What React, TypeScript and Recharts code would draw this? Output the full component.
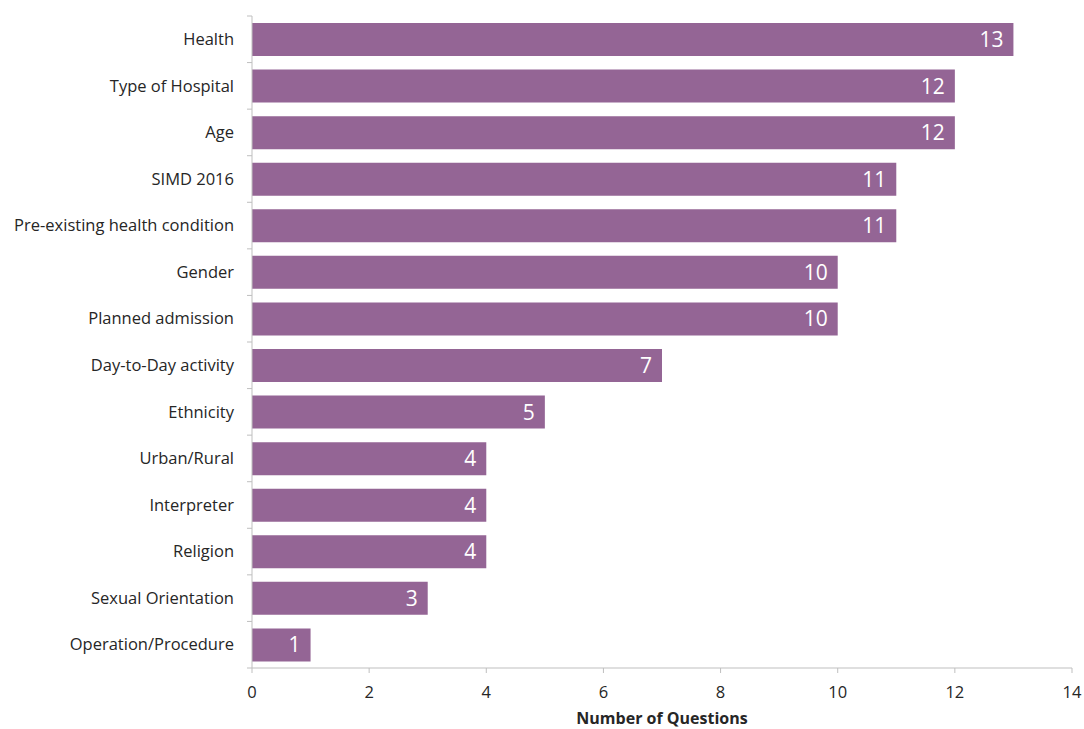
import React from 'react';
import { BarChart, Bar, XAxis, YAxis, LabelList } from 'recharts';

const categories = [
  'Health', 'Type of Hospital', 'Age', 'SIMD 2016', 'Pre-existing health condition',
  'Gender', 'Planned admission', 'Day-to-Day activity', 'Ethnicity', 'Urban/Rural',
  'Interpreter', 'Religion', 'Sexual Orientation', 'Operation/Procedure',
];
const questions = [13, 12, 12, 11, 11, 10, 10, 7, 5, 4, 4, 4, 3, 1];
const xTicks = [0, 2, 4, 6, 8, 10, 12, 14];

const data = categories.map((c, i) => ({ name: c, value: questions[i] }));

const FONT = '"Open Sans", Lato, sans-serif';
const W = 1084;
const H = 729;
const M = { top: 16, right: 12, left: 0, bottom: 0 };
const X_AXIS_H = 61;
const TICK_MARGIN = 13;
const TICK_SIZE = 5;
const band = (H - M.top - M.bottom - X_AXIS_H) / categories.length;

const YTick = (props: any) => {
  const { x, y, payload, index } = props;
  const lx = x + TICK_MARGIN;
  const isLast = index === categories.length - 1;
  return (
    <g>
      <line x1={lx} x2={lx + TICK_SIZE} y1={y - band / 2} y2={y - band / 2} stroke="#bfbfbf" />
      {isLast && <line x1={lx} x2={lx + TICK_SIZE} y1={y + band / 2} y2={y + band / 2} stroke="#bfbfbf" />}
      <text x={x} y={y} dy="0.35em" textAnchor="end" fill="#262626" fontSize={16.5} fontFamily={FONT}>
        {payload.value}
      </text>
    </g>
  );
};

export default function App() {
  return (
    <div style={{ position: 'absolute', left: 0, top: 0, background: '#fff' }}>
      <BarChart
        width={W}
        height={H}
        data={data}
        layout="vertical"
        margin={M}
        barCategoryGap={0}
      >
        <XAxis
          type="number"
          domain={[0, 14]}
          ticks={xTicks}
          stroke="#bfbfbf"
          tickSize={TICK_SIZE}
          tickMargin={13}
          tick={{ fill: '#262626', fontSize: 16.5, fontFamily: FONT }}
          height={X_AXIS_H}
          label={{ value: 'Number of Questions', position: 'insideBottom', offset: 5, fill: '#262626', fontSize: 16, fontWeight: 'bold', fontFamily: FONT }}
        />
        <YAxis
          type="category"
          dataKey="name"
          width={252}
          stroke="#bfbfbf"
          tickLine={false}
          tickSize={TICK_SIZE}
          tickMargin={TICK_MARGIN}
          tick={<YTick />}
          interval={0}
        />
        <Bar dataKey="value" fill="#946595" barSize={33} isAnimationActive={false}>
          <LabelList dataKey="value" position="insideRight" offset={10} fill="#ffffff" style={{ fontSize: 21, fontFamily: FONT }} />
        </Bar>
      </BarChart>
    </div>
  );
}
